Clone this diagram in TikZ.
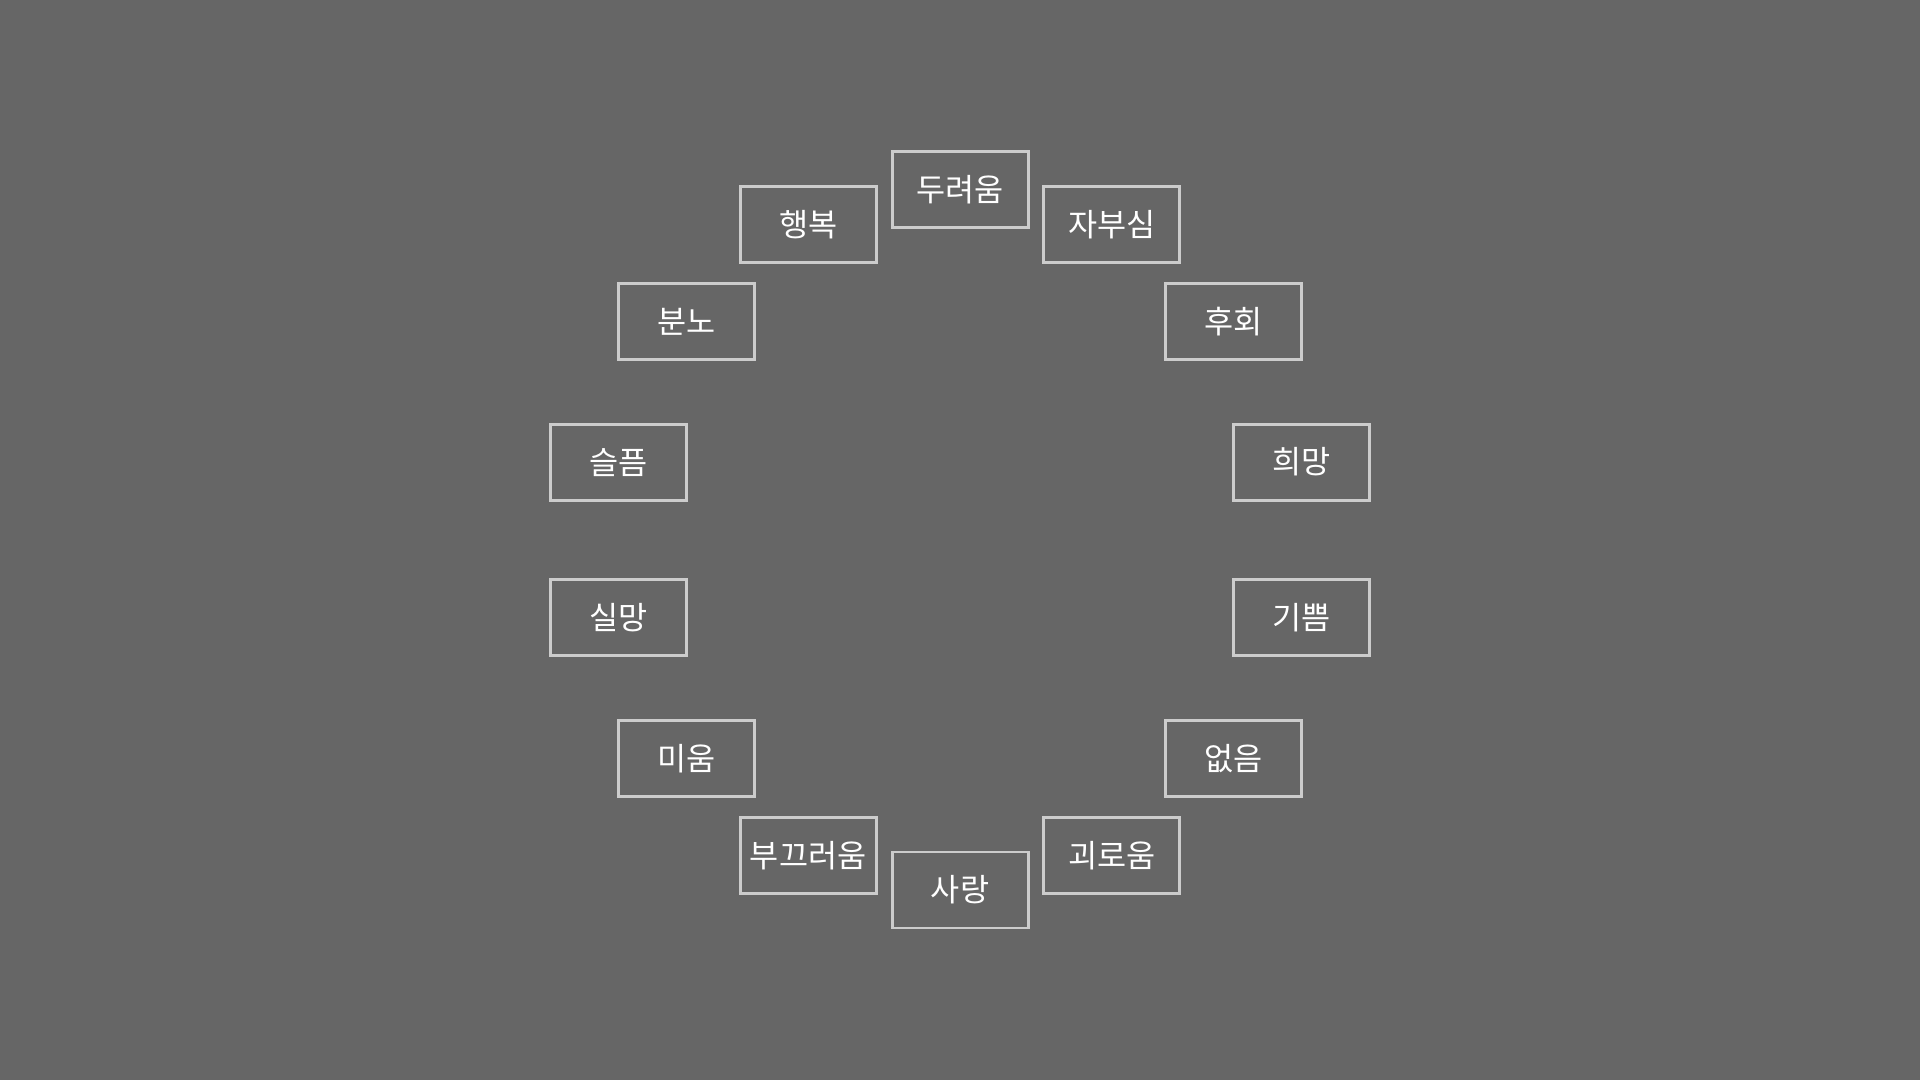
\documentclass[tikz,border=0pt]{standalone}
\usepackage{fontspec}
\usetikzlibrary{calc}
\newfontfamily\kr{Noto Sans CJK KR}
\definecolor{bg}{HTML}{666666}
\definecolor{bd}{HTML}{CCCCCC}
\tikzset{
  emo/.style={draw=bd, line width=0.85pt, fill=bg, minimum width=1.36cm, minimum height=0.76cm,
    inner sep=0pt, text=white, font=\kr\fontsize{9pt}{10pt}\selectfont}
}
\begin{document}
\begin{tikzpicture}
\fill[bg] (0,0) rectangle (19.2,10.8);
\useasboundingbox (0,0) rectangle (19.2,10.8);
\coordinate (c) at (9.6,5.4);
\foreach \t [count=\i from 0] in {두려움,자부심,후회,희망,기쁨,없음,괴로움,사랑,부끄러움,미움,실망,슬픔,분노,행복}{
  \node[emo] (n\i) at ($(c)+({90-\i*360/14}:3.5)$) {\t};
}
\end{tikzpicture}
\end{document}
